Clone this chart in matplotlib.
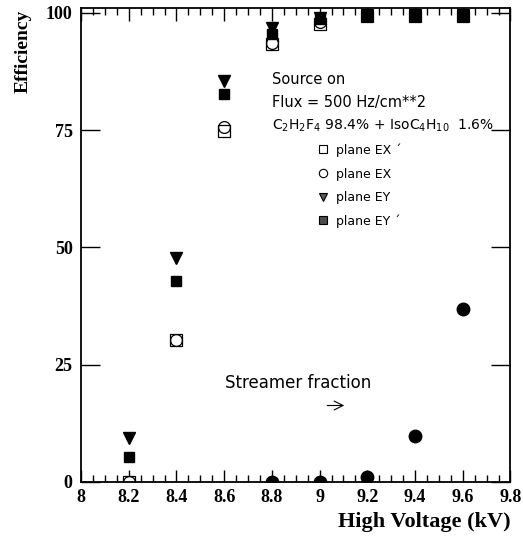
import matplotlib.pyplot as plt
from matplotlib.ticker import MultipleLocator

plt.close('all')

# high voltage points (kV)
hv = [8.2, 8.4, 8.6, 8.8, 9.0, 9.2, 9.4, 9.6]

# efficiency per plane (%)
eff_ex_prime = [0.0, 30.3, 74.8, 93.4, 97.6, 99.4, 99.4, 99.4]
eff_ex = [0.0, 30.3, 75.7, 93.6, 98.0, 99.4, 99.4, 99.4]
eff_ey = [9.4, 47.8, 85.5, 96.8, 98.9, 99.5, 99.5, 99.5]
eff_ey_prime = [5.3, 42.9, 82.7, 95.5, 98.7, 99.4, 99.4, 99.4]

# streamer fraction (%)
hv_streamer = [8.8, 9.0, 9.2, 9.4, 9.6]
streamer = [0.0, 0.0, 1.1, 9.8, 36.9]

# tick labels
xticks = [8.0, 8.2, 8.4, 8.6, 8.8, 9.0, 9.2, 9.4, 9.6, 9.8]
xtick_labels = ['8', '8.2', '8.4', '8.6', '8.8', '9', '9.2', '9.4', '9.6', '9.8']
yticks = [0, 25, 50, 75, 100]
ytick_labels = ['0', '25', '50', '75', '100']

fig = plt.figure(figsize=(5.23, 5.44), dpi=100)
ax = fig.add_axes([0.155, 0.114, 0.821, 0.8707])

# open markers first, filled ones on top
ax.plot(hv, eff_ex_prime, 's', mfc='white', mec='k', mew=0.9, ms=8, ls='none', clip_on=True)
ax.plot(hv, eff_ex, 'o', mfc='none', mec='k', mew=0.9, ms=8.5, ls='none', clip_on=True)
ax.plot(hv, eff_ey, 'v', color='k', ms=8, ls='none', clip_on=True)
ax.plot(hv, eff_ey_prime, 's', color='k', ms=7.5, ls='none', clip_on=True)
ax.plot(hv_streamer, streamer, 'o', color='k', ms=9, ls='none', clip_on=True)

ax.set_xlim(8, 9.8)
ax.set_ylim(0, 100.94)
ax.xaxis.set_minor_locator(MultipleLocator(0.05))
ax.tick_params(which='both', direction='in', top=True, right=True, width=1)
ax.tick_params(which='major', length=9)
ax.tick_params(which='minor', length=5)
ax.tick_params(axis='y', length=14)
for sp in ax.spines.values():
    sp.set_linewidth(1.3)

tick_font = {'family': 'Liberation Serif', 'weight': 'bold', 'size': 13}
ax.set_xticks(xticks)
ax.set_xticklabels(xtick_labels, fontdict=tick_font)
ax.set_yticks(yticks)
ax.set_yticklabels(ytick_labels, fontdict=tick_font)
ax.tick_params(axis='x', pad=5)
ax.tick_params(axis='y', pad=6)

fig.text(0.976, 0.022, 'High Voltage (kV)', ha='right', va='bottom',
         family='Liberation Serif', weight='bold', size=16)
fig.text(0.044, 0.982, 'Efficiency', ha='center', va='top', rotation=90,
         family='Liberation Serif', weight='bold', size=14)

txt = {'family': 'DejaVu Sans', 'size': 10.5, 'color': 'k'}
fig.text(0.520, 0.845, 'Source on', **txt)
fig.text(0.520, 0.803, 'Flux = 500 Hz/cm**2', **txt)
fig.text(0.520, 0.762, r'C$_2$H$_2$F$_4$ 98.4% + IsoC$_4$H$_{10}$  1.6%',
         family='DejaVu Sans', size=10, color='k')

legend_labels = ["plane EX \u00b4", "plane EX", "plane EY", "plane EY \u00b4"]
legend_marks = [('s', 'white'), ('o', 'white'), ('v', '0.35'), ('s', '0.3')]
for i, (lab, (m, fc)) in enumerate(zip(legend_labels, legend_marks)):
    yy = 0.717 - i * 0.0437
    fig.lines.append(plt.Line2D([0.617], [yy + 0.009], marker=m, mfc=fc, mec='k',
                                mew=0.8, ms=6, transform=fig.transFigure))
    fig.text(0.643, yy, lab, size=9, family='DejaVu Sans')

fig.text(0.430, 0.286, 'Streamer fraction', family='DejaVu Sans', size=12)
ax.annotate('', xy=(9.115, 16.3), xytext=(9.02, 16.3),
            arrowprops=dict(arrowstyle='->', lw=0.8, color='k', mutation_scale=16))

plt.savefig('out.png', dpi=100)
